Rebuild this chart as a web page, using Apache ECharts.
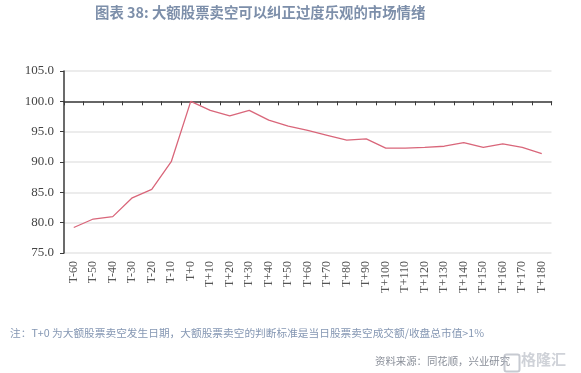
<!DOCTYPE html>
<html>
<head>
<meta charset="utf-8">
<script src="https://cdn.jsdelivr.net/npm/echarts@6/dist/echarts.min.js"></script>
<style>html,body{margin:0;padding:0;background:#fff;}#c{width:581px;height:373px;}</style>
</head>
<body>
<div id="c"></div>
<script>
const categories = ['T-60','T-50','T-40','T-30','T-20','T-10','T+0','T+10','T+20','T+30','T+40','T+50','T+60','T+70','T+80','T+90','T+100','T+110','T+120','T+130','T+140','T+150','T+160','T+170','T+180'];
const values = [79.2,80.6,81.0,84.1,85.5,90.05,100.0,98.5,97.6,98.5,96.9,95.9,95.2,94.4,93.6,93.8,92.3,92.3,92.4,92.6,93.2,92.4,93.0,92.4,91.4];
const yMin = 75, yMax = 105, yStep = 5, baseLine = 100;
const titleText = '图表 38: 大额股票卖空可以纠正过度乐观的市场情绪';
const noteText = '注：T+0 为大额股票卖空发生日期，大额股票卖空的判断标准是当日股票卖空成交额/收盘总市值>1%';
const sourceText = '资料来源：同花顺，兴业研究';

const gridTop = 71, gridBottom = 120, H = 373;
const gridH = H - gridTop - gridBottom;
const baseOffset = -gridH * (yMax - baseLine) / (yMax - yMin);

const chart = echarts.init(document.getElementById('c'), null, {renderer: 'canvas'});
const serif = '"Liberation Serif", "DejaVu Serif", serif';
chart.setOption({
  animation: false,
  backgroundColor: '#fff',
  graphic: [
    {type: 'text', left: 95, top: 5, style: {text: titleText, fill: '#7d8faa', font: 'bold 14.4px "Noto Sans CJK SC", sans-serif'}},
    {type: 'text', left: 10, top: 328, style: {text: noteText, fill: '#8597b3', font: '10.7px "Noto Sans CJK SC", sans-serif'}},
    {type: 'text', left: 375, top: 356, style: {text: sourceText, fill: '#8a8f99', font: '10.4px "Noto Sans CJK SC", sans-serif'}},
    {type: 'rect', left: 502, top: 352, shape: {width: 15, height: 17, r: 2}, style: {fill: 'none', stroke: 'rgba(175,180,190,0.7)', lineWidth: 2}},
    {type: 'text', left: 521, top: 352, style: {text: '格隆汇', fill: 'rgba(175,180,190,0.6)', font: 'bold 15px "Noto Sans CJK SC", sans-serif'}}
  ],
  grid: {left: 64, right: 29.5, top: gridTop, bottom: gridBottom},
  xAxis: [
    {
      type: 'category', data: categories, position: 'bottom', boundaryGap: true,
      axisLine: {show: false}, axisTick: {show: false},
      axisLabel: {rotate: 90, interval: 0, margin: 8, color: '#555', fontFamily: serif, fontSize: 12}
    },
    {
      type: 'category', data: categories, position: 'top', boundaryGap: true, offset: baseOffset,
      axisLine: {show: true, lineStyle: {color: '#3a3a3a', width: 1.5}},
      axisTick: {show: true, inside: true, length: 4, interval: 0, lineStyle: {color: '#3a3a3a'}},
      axisLabel: {show: false}
    }
  ],
  yAxis: {
    type: 'value', min: yMin, max: yMax, interval: yStep,
    axisLine: {show: true, lineStyle: {color: '#3a3a3a', width: 1.5}},
    axisTick: {show: true, length: 4, lineStyle: {color: '#3a3a3a'}},
    axisLabel: {color: '#444', fontFamily: serif, fontSize: 13, margin: 10, formatter: v => v.toFixed(1)},
    splitLine: {show: true, lineStyle: {color: '#e6e6e6', width: 1.5}}
  },
  series: [{
    type: 'line', data: values, xAxisIndex: 0, symbol: 'none',
    lineStyle: {color: '#d9667a', width: 1.3}
  }]
});
</script>
</body>
</html>
